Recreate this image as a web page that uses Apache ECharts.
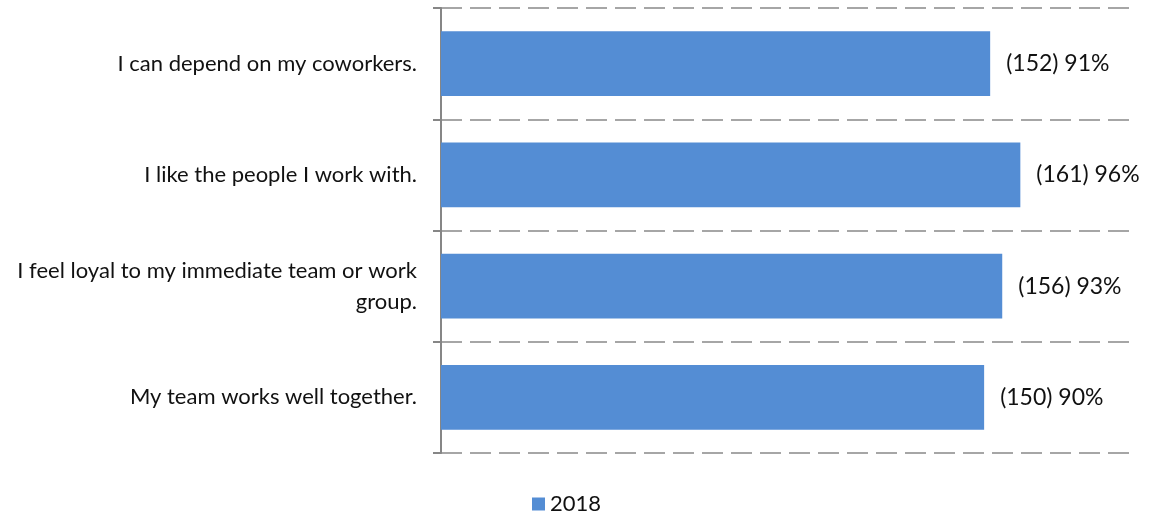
<!DOCTYPE html>
<html>
<head>
<meta charset="utf-8">
<script src="https://cdn.jsdelivr.net/npm/echarts@6/dist/echarts.min.js"></script>
<style>
  html, body { margin: 0; padding: 0; background: #fff; }
  #chart { width: 1158px; height: 517px; }
</style>
</head>
<body>
<div id="chart"></div>
<script>
// Survey statements, respondent counts and agreement shares (2018)
const statements = [
  'I can depend on my coworkers.',
  'I like the people I work with.',
  'I feel loyal to my immediate team or work\ngroup.',
  'My team works well together.'
];
const counts = [152, 161, 156, 150];
const percents = [91, 96, 93, 90];
const seriesName = '2018';

const FONT = 'Lato';
const chart = echarts.init(document.getElementById('chart'), null, { renderer: 'canvas' });

chart.setOption({
  animation: false,
  textStyle: { fontFamily: FONT },
  grid: { left: 441, right: 23, top: 8, bottom: 64, containLabel: false },
  legend: {
    data: [seriesName],
    left: 532,
    bottom: 2,
    padding: 0,
    icon: 'rect',
    itemWidth: 13,
    itemHeight: 13,
    textStyle: { fontFamily: FONT, fontSize: 22, color: '#111' }
  },
  xAxis: {
    type: 'value',
    min: 0,
    max: 115,
    show: false,
    splitLine: { show: false }
  },
  yAxis: {
    type: 'category',
    data: statements,
    inverse: true,
    axisLine: { show: true, lineStyle: { color: '#868686', width: 2 } },
    axisTick: { show: true, length: 8, lineStyle: { color: '#868686', width: 2 } },
    axisLabel: {
      margin: 24,
      fontFamily: FONT,
      fontSize: 22,
      color: '#111',
      align: 'right',
      lineHeight: 31
    },
    splitLine: {
      show: true,
      lineStyle: { color: '#A6A6A6', width: 2, type: [21, 8] }
    }
  },
  series: [{
    name: seriesName,
    type: 'bar',
    data: percents,
    barCategoryGap: '42%',
    itemStyle: { color: '#548DD4' },
    label: {
      show: true,
      position: 'right',
      distance: 16,
      fontFamily: FONT,
      fontSize: 23,
      color: '#111',
      formatter: p => '(' + counts[p.dataIndex] + ') ' + percents[p.dataIndex] + '%'
    }
  }]
});
</script>
</body>
</html>
